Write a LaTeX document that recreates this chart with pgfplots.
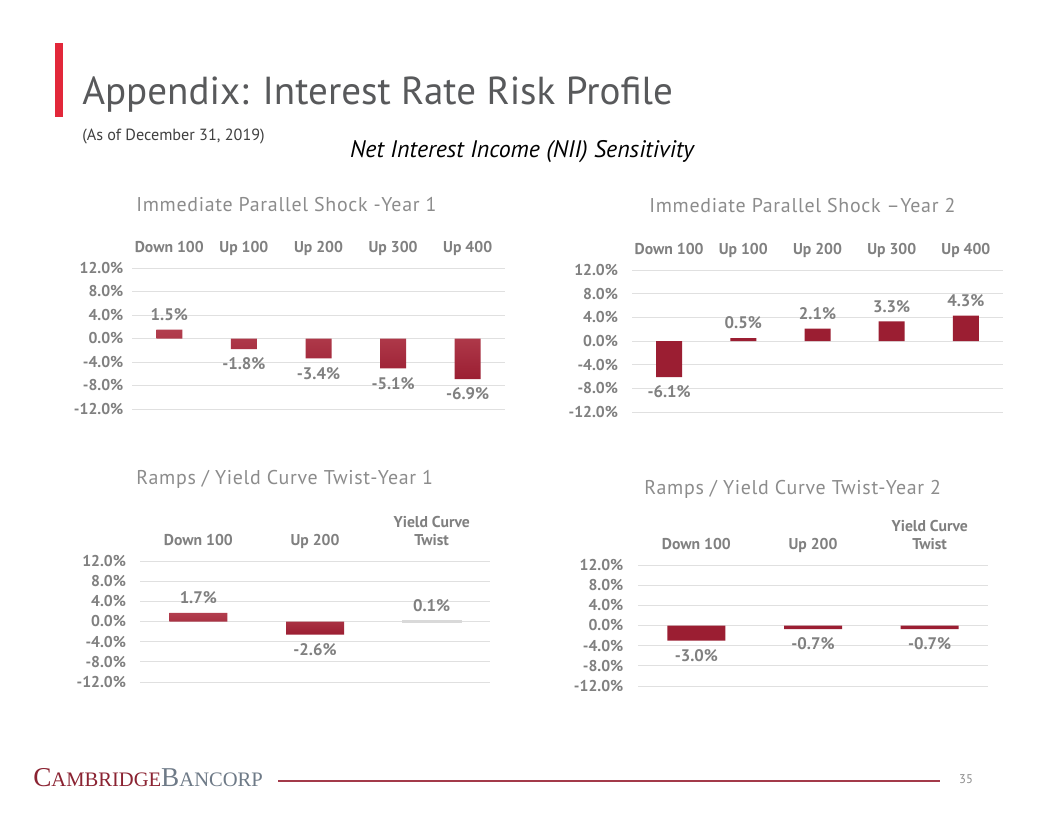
\documentclass[border=0pt]{standalone}
\usepackage{pgfplots}
\pgfplotsset{compat=1.18}
\usepackage{fontspec}
\setmainfont{PT Sans}
\newfontfamily\logofont{Liberation Serif}
\newfontfamily\spacedfont[LetterSpace=3.5]{PT Sans}
\definecolor{barred}{RGB}{155,30,50}
\definecolor{barlight}{RGB}{178,62,78}
\definecolor{tickgray}{RGB}{128,128,128}
\definecolor{titlegray}{RGB}{140,140,140}
\definecolor{headgray}{RGB}{88,89,91}
\definecolor{accent}{RGB}{226,40,58}
\definecolor{logored}{RGB}{139,35,50}
\definecolor{logogray}{RGB}{110,122,135}
\definecolor{rulered}{RGB}{163,58,74}

\pgfplotsset{
 slidebar/.style={
  scale only axis,
  ybar, bar shift=0pt,
  ymin=-12, ymax=12,
  ytick={-12,-8,-4,0,4,8,12},
  yticklabels={-12.0\%,-8.0\%,-4.0\%,0.0\%,4.0\%,8.0\%,12.0\%},
  ymajorgrids, grid style={draw=black!12, line width=0.6pt},
  axis line style={draw=none},
  major tick length=0pt,
  xticklabel pos=upper,
  tick label style={font=\fontsize{11.8}{13.5}\selectfont\bfseries, text=tickgray},
  yticklabel style={anchor=east},
  xticklabel style={anchor=south, align=center, text depth=2pt, yshift=6bp},
  point meta=y,
  nodes near coords={\pgfmathprintnumber[fixed,fixed zerofill,precision=1,assume math mode=true]{\pgfplotspointmeta}\%},
  nodes near coords style={font=\fontsize{12.6}{14}\selectfont\bfseries, text=tickgray, inner xsep=0pt, inner ysep=6.5bp},
  clip=false,
 }
}

\begin{document}
\begin{tikzpicture}[x=0.75bp,y=0.75bp]
\fill[white] (0,0) rectangle (1056,816);
% header
\fill[accent] (55,699) rectangle (63,773);
\node[anchor=base west, inner sep=0, text=headgray] at (82,711) {\fontsize{29.4}{34}\selectfont Appendix: Interest Rate Risk Profile};
\node[anchor=base west, inner sep=0, text=black!75] at (82,675) {\fontsize{12.2}{14}\selectfont (As of December 31, 2019)};
\node[inner sep=0, text=black] at (522,664) {\fontsize{18}{20}\selectfont\itshape Net Interest Income (NII) Sensitivity};
% chart titles
\node[anchor=west, inner sep=0, text=titlegray] at (136,611) {\spacedfont\fontsize{15}{17}\selectfont Immediate Parallel Shock -Year 1};
\node[anchor=west, inner sep=0, text=titlegray] at (649,610) {\spacedfont\fontsize{15}{17}\selectfont Immediate Parallel Shock –Year 2};
\node[anchor=west, inner sep=0, text=titlegray] at (136,337) {\spacedfont\fontsize{15}{17}\selectfont Ramps / Yield Curve Twist-Year 1};
\node[anchor=west, inner sep=0, text=titlegray] at (644,327) {\spacedfont\fontsize{15}{17}\selectfont Ramps / Yield Curve Twist-Year 2};
% anchors for axes
\coordinate (A1) at (132,407);
\coordinate (A2) at (632,404);
\coordinate (A3) at (140,134);
\coordinate (A4) at (638,130);

\begin{axis}[slidebar, at={(A1)}, anchor=south west,
  width=279.75bp, height=105.75bp, bar width=19.5bp,
  xmin=-0.5, xmax=4.5, xtick={0,1,2,3,4},
  xticklabels={Down 100,Up 100,Up 200,Up 300,Up 400},
  yticklabel style={xshift=-3bp}]
\addplot[top color=barlight, bottom color=barred, draw=none] coordinates {(0,1.5) (1,-1.8) (2,-3.4) (3,-5.1) (4,-6.9)};
\end{axis}

\begin{axis}[slidebar, at={(A2)}, anchor=south west,
  width=278.25bp, height=106.5bp, bar width=19.5bp,
  xmin=-0.5, xmax=4.5, xtick={0,1,2,3,4},
  xticklabels={Down 100,Up 100,Up 200,Up 300,Up 400},
  yticklabel style={xshift=-7bp}]
\addplot[fill=barred, draw=none] coordinates {(0,-6.1) (1,0.5) (2,2.1) (3,3.3) (4,4.3)};
\end{axis}

\begin{axis}[slidebar, at={(A3)}, anchor=south west,
  width=262.5bp, height=90.75bp, bar width=43.5bp,
  xmin=-0.5, xmax=2.5, xtick={0,1,2},
  xticklabels={Down 100,Up 200,Yield Curve\\Twist},
  yticklabel style={xshift=-7bp}]
\addplot[top color=barlight, bottom color=barred, draw=none] coordinates {(0,1.7) (1,-2.6)};
\addplot[fill=black!15, draw=black!15, line width=1.5bp] coordinates {(2,0.1)};
\end{axis}

\begin{axis}[slidebar, at={(A4)}, anchor=south west,
  width=262.5bp, height=90.75bp, bar width=43.5bp,
  xmin=-0.5, xmax=2.5, xtick={0,1,2},
  xticklabels={Down 100,Up 200,Yield Curve\\Twist},
  yticklabel style={xshift=-7.5bp}]
\addplot[fill=barred, draw=none] coordinates {(0,-3.0) (1,-0.7) (2,-0.7)};
\end{axis}

% footer
\node[anchor=base west, inner sep=0] at (33,30) {\logofont\color{logored}{\fontsize{20.5}{22}\selectfont C}{\fontsize{15.5}{22}\selectfont AMBRIDGE}\color{logogray}{\fontsize{20.5}{22}\selectfont B}{\fontsize{15.5}{22}\selectfont ANCORP}};
\draw[rulered, line width=1.1bp] (278,35) -- (940,35);
\node[inner sep=0, text=black!45] at (966,37) {\fontsize{9.5}{10}\selectfont 35};
\end{tikzpicture}
\end{document}
